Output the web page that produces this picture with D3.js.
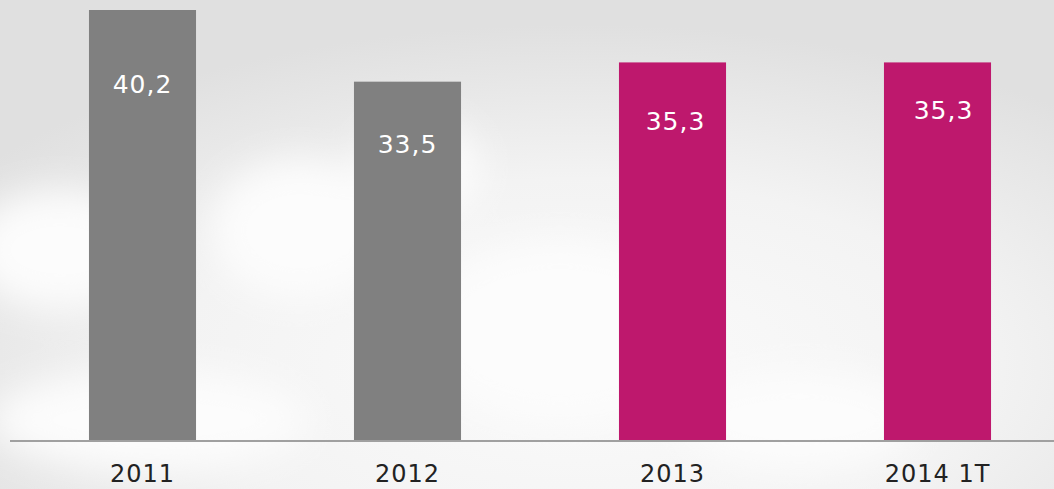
<!DOCTYPE html>
<html>
<head>
<meta charset="utf-8">
<script src="https://cdn.jsdelivr.net/npm/d3@7"></script>
<style>
  body { margin: 0; overflow: hidden; }
  svg { display: block; }
</style>
</head>
<body>
<div class="container"></div>
<script>
// chart data
const categories = ["2011", "2012", "2013", "2014 1T"];
const values = [40.2, 33.5, 35.3, 35.3];
const valueLabels = ["40,2", "33,5", "35,3", "35,3"];
const highlighted = [false, false, true, true];

const w = 1054;
const h = 489;
const base = 440;

const svg = d3.select(".container")
              .append("svg")
              .attr("width", w)
              .attr("height", h);

const defs = svg.append("defs");
const bg = defs.append("radialGradient")
               .attr("id", "bg")
               .attr("cx", "55%").attr("cy", "75%").attr("r", "70%");
bg.append("stop").attr("offset", "0%").attr("stop-color", "#fbfbfb");
bg.append("stop").attr("offset", "55%").attr("stop-color", "#f3f3f3");
bg.append("stop").attr("offset", "100%").attr("stop-color", "#e0e0e0");

defs.append("filter").attr("id", "blur")
    .attr("x", "-50%").attr("y", "-50%").attr("width", "200%").attr("height", "200%")
    .append("feGaussianBlur").attr("stdDeviation", 18);

svg.append("rect")
   .attr("width", w).attr("height", h)
   .attr("fill", "url(#bg)");

// soft clouds in the background
const clouds = svg.append("g").attr("filter", "url(#blur)").attr("fill", "#fcfcfc");
clouds.append("ellipse").attr("cx", 60).attr("cy", 250).attr("rx", 90).attr("ry", 60);
clouds.append("ellipse").attr("cx", 300).attr("cy", 230).attr("rx", 90).attr("ry", 70);
clouds.append("ellipse").attr("cx", 420).attr("cy", 170).attr("rx", 60).attr("ry", 50);
clouds.append("ellipse").attr("cx", 560).attr("cy", 330).attr("rx", 140).attr("ry", 90);
clouds.append("ellipse").attr("cx", 150).attr("cy", 420).attr("rx", 160).attr("ry", 50);
clouds.append("ellipse").attr("cx", 800).attr("cy", 420).attr("rx", 120).attr("ry", 50);

const xScale = d3.scaleBand()
                 .domain(categories)
                 .range([10, 1070])
                 .paddingInner(0.596)
                 .paddingOuter(0.298);

const yScale = d3.scaleLinear()
                 .domain([0, d3.max(values)])
                 .range([base, 10]);

const data = categories.map((c, i) => ({cat: c, value: values[i], label: valueLabels[i], hi: highlighted[i]}));

svg.selectAll("rect.bar")
   .data(data)
   .enter()
   .append("rect")
   .attr("class", "bar")
   .attr("x", d => xScale(d.cat))
   .attr("y", d => yScale(d.value))
   .attr("width", xScale.bandwidth())
   .attr("height", d => base - yScale(d.value))
   .attr("fill", d => d.hi ? "#be186d" : "#808080");

// label offsets below the bar top, as in the original slide
const labelDy = [83, 71, 68, 57];
const labelDx = [0, 0, 3, 6];

svg.selectAll("text.val")
   .data(data)
   .enter()
   .append("text")
   .attr("class", "val")
   .attr("x", (d, i) => xScale(d.cat) + xScale.bandwidth() / 2 + labelDx[i])
   .attr("y", (d, i) => yScale(d.value) + labelDy[i])
   .attr("text-anchor", "middle")
   .attr("fill", "#ffffff")
   .style("font-family", "DejaVu Sans, Verdana, sans-serif")
   .style("font-size", "25px")
   .style("letter-spacing", "1px")
   .text(d => d.label);

// x axis
const xAxis = d3.axisBottom(xScale).tickSize(0).tickPadding(24);
const gx = svg.append("g")
   .attr("transform", "translate(0," + (base + 1) + ")")
   .call(xAxis);
gx.select(".domain").remove();
gx.append("line")
  .attr("x1", 10).attr("x2", w)
  .attr("y1", 0).attr("y2", 0)
  .attr("stroke", "#a0a0a0")
  .attr("stroke-width", 2);
gx.selectAll(".tick text")
  .attr("fill", "#222222")
  .style("font-family", "DejaVu Sans, Verdana, sans-serif")
  .style("font-size", "24px")
  .style("letter-spacing", "1px");
</script>
</body>
</html>
